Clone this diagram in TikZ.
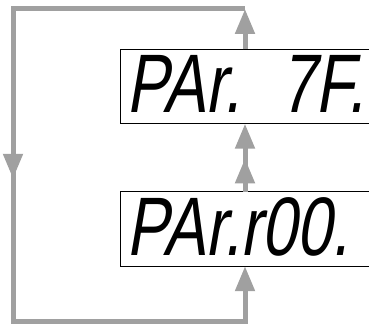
\documentclass[tikz,border=0pt]{standalone}
\usepackage{fontspec}
\usepackage{tikz}
\usetikzlibrary{arrows.meta,positioning,decorations.markings}
\newfontfamily\segfont[FakeSlant=0.17,FakeStretch=0.76]{Liberation Sans}
\definecolor{loopgray}{HTML}{A0A0A0}

\begin{document}
\begin{tikzpicture}[
  x=1pt,y=1pt,
  disp/.style={anchor=west,text width=237pt,align=left,
    inner xsep=6pt,inner ysep=3pt,text height=60pt,text depth=8pt,
    font=\segfont\fontsize{83}{83}\selectfont},
  frame/.style={draw,line width=1pt},
  tip/.style={-{Triangle[width=19pt,length=25pt]}},
  flow/.style={draw=loopgray,line width=5pt,tip},
  midtip/.style={postaction={decorate},decoration={markings,
    mark=at position #1 with {\arrow{Triangle[width=19pt,length=25pt]}}}}
]
\clip (0,0) rectangle (369,324);

\node[disp] (parC) at (120,237.5) {\mbox{PAr.\hspace{40pt}7F.}};
\node[disp] (parR) at (120,95) {\mbox{PAr.r00.}};
% display frames stop at the right edge, open there
\draw[frame] (parC.north east) -- (parC.north west) -- (parC.south west)
  -- (parC.south east);
\draw[frame] (parR.north east) -- (parR.north west) -- (parR.south west)
  -- (parR.south east);

\coordinate (tr) at (245,315);
\coordinate (tl) at (13,315);
\coordinate (bl) at (13,2.5);
\coordinate (br) at (245,2.5);

\draw[flow] (parC.north -| tr) -- (tr);
\draw[flow,line join=miter,midtip=0.483] (tr) -- (tl) -- (bl) -- (br)
  -- (parR.south -| br);
\draw[flow,midtip=0.49] (parR.north -| br) -- (parC.south -| br);
\end{tikzpicture}
\end{document}
